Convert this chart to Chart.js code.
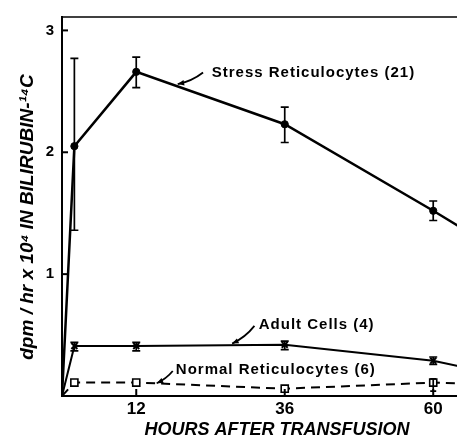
<!DOCTYPE html>
<html>
<head>
<meta charset="utf-8">
<script src="https://cdn.jsdelivr.net/npm/chart.js@4.4.1/dist/chart.umd.min.js"></script>
<style>
  html, body { margin: 0; padding: 0; background: #fff; overflow: hidden; }
  /* plot runs past the right edge of the window, like the cropped figure */
  #wrap { width: 492px; height: 442px; position: relative; }
</style>
</head>
<body>
<div id="wrap"><canvas id="chart"></canvas></div>
<script>
// hours after transfusion (last point lies past the visible edge)
const hours = [0, 2, 12, 36, 60, 72];

const stressVals = [0, 2.05, 2.66, 2.23, 1.52, 1.15];
const stressLow  = [null, 1.36, 2.53, 2.08, 1.44, null];
const stressHigh = [null, 2.77, 2.78, 2.37, 1.60, null];

const adultVals = [0, 0.41, 0.41, 0.42, 0.29, 0.16];
const adultLow  = [null, 0.37, 0.37, 0.38, 0.26, null];
const adultHigh = [null, 0.44, 0.44, 0.45, 0.32, null];

const normalVals = [0, 0.11, 0.11, 0.06, 0.11, 0.09];
const normalLow  = [null, null, null, null, 0.04, null];
const normalHigh = [null, null, null, null, 0.14, null];

const xTicks = [12, 36, 60];
const yTicks = [1, 2, 3];

// label text, where it sits, and its arrow (all in data units)
const notes = [
  { text: "Stress Reticulocytes (21)", x: 24.2, y: 2.65, from: [22.8, 2.655], to: [18.7, 2.56] },
  { text: "Adult Cells (4)", x: 31.8, y: 0.58, from: [31.1, 0.575], to: [27.5, 0.43] },
  { text: "Normal Reticulocytes (6)", x: 18.4, y: 0.218, from: [17.9, 0.205], to: [15.3, 0.105] }
];

const FONT = '"Liberation Sans", Arial, sans-serif';

function pts(vals){
  return hours.map((h, i) => ({ x: h, y: vals[i] }));
}

const extras = {
  id: "extras",
  afterDatasetsDraw(chart){
    const { ctx, chartArea: ca, scales: { x, y } } = chart;
    ctx.save();
    ctx.strokeStyle = "#000";
    ctx.fillStyle = "#000";

    // top frame line
    ctx.lineWidth = 1.5;
    ctx.beginPath();
    ctx.moveTo(ca.left, ca.top);
    ctx.lineTo(ca.right, ca.top);
    ctx.stroke();

    // inward tick marks
    ctx.lineWidth = 2;
    for(const v of yTicks){
      const py = y.getPixelForValue(v);
      ctx.beginPath(); ctx.moveTo(ca.left, py); ctx.lineTo(ca.left + 6, py); ctx.stroke();
    }
    for(const v of xTicks){
      const px = x.getPixelForValue(v);
      ctx.beginPath(); ctx.moveTo(px, ca.bottom); ctx.lineTo(px, ca.bottom - 7); ctx.stroke();
    }

    // error bars
    ctx.beginPath();
    ctx.rect(ca.left, ca.top, ca.right - ca.left, ca.bottom - ca.top);
    ctx.clip();
    ctx.lineWidth = 1.7;
    chart.data.datasets.forEach(ds => {
      hours.forEach((h, i) => {
        const lo = ds.errLow[i], hi = ds.errHigh[i];
        if(lo == null || hi == null) return;
        const px = x.getPixelForValue(h);
        const p1 = y.getPixelForValue(lo), p2 = y.getPixelForValue(hi);
        const w = ds.capWidth;
        ctx.beginPath();
        ctx.moveTo(px, p1); ctx.lineTo(px, p2);
        ctx.moveTo(px - w, p1); ctx.lineTo(px + w, p1);
        ctx.moveTo(px - w, p2); ctx.lineTo(px + w, p2);
        ctx.stroke();
      });
    });

    // annotations with arrows
    ctx.font = "bold 15px " + FONT;
    ctx.letterSpacing = "1px";
    ctx.textBaseline = "middle";
    ctx.textAlign = "left";
    for(const n of notes){
      ctx.fillText(n.text, x.getPixelForValue(n.x), y.getPixelForValue(n.y));
      const x1 = x.getPixelForValue(n.from[0]), y1 = y.getPixelForValue(n.from[1]);
      const x2 = x.getPixelForValue(n.to[0]), y2 = y.getPixelForValue(n.to[1]);
      const mx = (x1 + x2) / 2 + (y2 - y1) * 0.12, my = (y1 + y2) / 2 - (x2 - x1) * 0.12;
      ctx.lineWidth = 1.8;
      ctx.beginPath();
      ctx.moveTo(x1, y1);
      ctx.quadraticCurveTo(mx, my, x2, y2);
      ctx.stroke();
      const a = Math.atan2(y2 - my, x2 - mx);
      ctx.beginPath();
      ctx.moveTo(x2, y2);
      ctx.lineTo(x2 - 7 * Math.cos(a - 0.4), y2 - 7 * Math.sin(a - 0.4));
      ctx.lineTo(x2 - 7 * Math.cos(a + 0.4), y2 - 7 * Math.sin(a + 0.4));
      ctx.closePath();
      ctx.fill();
    }
    ctx.restore();
  }
};

new Chart(document.getElementById("chart"), {
  type: "line",
  data: {
    datasets: [
      {
        label: "Stress Reticulocytes (21)",
        data: pts(stressVals),
        errLow: stressLow, errHigh: stressHigh, capWidth: 4,
        borderColor: "#000", borderWidth: 2.5,
        pointStyle: "circle", pointRadius: [0, 3.6, 3.6, 3.6, 3.6, 0], pointBorderWidth: 1,
        pointBackgroundColor: "#000", pointBorderColor: "#000",
        tension: 0
      },
      {
        label: "Adult Cells (4)",
        data: pts(adultVals),
        errLow: adultLow, errHigh: adultHigh, capWidth: 4,
        borderColor: "#000", borderWidth: 2,
        pointStyle: "crossRot", pointRadius: [0, 4.2, 4.2, 4.2, 4.2, 0], pointBorderWidth: 2,
        pointBorderColor: "#000",
        tension: 0
      },
      {
        label: "Normal Reticulocytes (6)",
        data: pts(normalVals),
        errLow: normalLow, errHigh: normalHigh, capWidth: 3,
        borderColor: "#000", borderWidth: 2, borderDash: [9, 6],
        pointStyle: "rect", pointRadius: [0, 5, 5, 5, 5, 0], pointBorderWidth: 1.6,
        pointBackgroundColor: "#fff", pointBorderColor: "#000",
        tension: 0
      }
    ]
  },
  options: {
    responsive: true,
    maintainAspectRatio: false,
    animation: false,
    layout: { padding: { top: 10, left: 0, right: 0, bottom: 0 } },
    plugins: { legend: { display: false }, tooltip: { enabled: false } },
    scales: {
      x: {
        type: "linear",
        min: 0, max: 69.5,
        afterBuildTicks: s => { s.ticks = xTicks.map(v => ({ value: v })); },
        afterFit: s => { s.height = 46; },
        grid: { display: false, drawTicks: false },
        border: { display: true, color: "#000", width: 2 },
        ticks: { color: "#000", padding: 3, maxRotation: 0, font: { family: FONT, size: 17, weight: "bold" } },
        title: {
          display: true, text: "HOURS AFTER TRANSFUSION", color: "#000",
          padding: { top: 0, bottom: 1 },
          font: { family: FONT, size: 18, weight: "bold", style: "italic" }
        }
      },
      y: {
        min: 0, max: 3.11,
        afterBuildTicks: s => { s.ticks = yTicks.map(v => ({ value: v })); },
        afterFit: s => { s.width = 62; },
        grid: { display: false, drawTicks: false },
        border: { display: true, color: "#000", width: 2 },
        ticks: { color: "#000", padding: 8, font: { family: FONT, size: 15, weight: "bold" } },
        title: {
          display: true, text: "dpm / hr x 10\u2074 IN BILIRUBIN-\u00B9\u2074C    ", color: "#000",
          padding: { top: 16, bottom: 0 },
          font: { family: FONT, size: 19, weight: "bold", style: "italic" }
        }
      }
    }
  },
  plugins: [extras]
});
</script>
</body>
</html>
